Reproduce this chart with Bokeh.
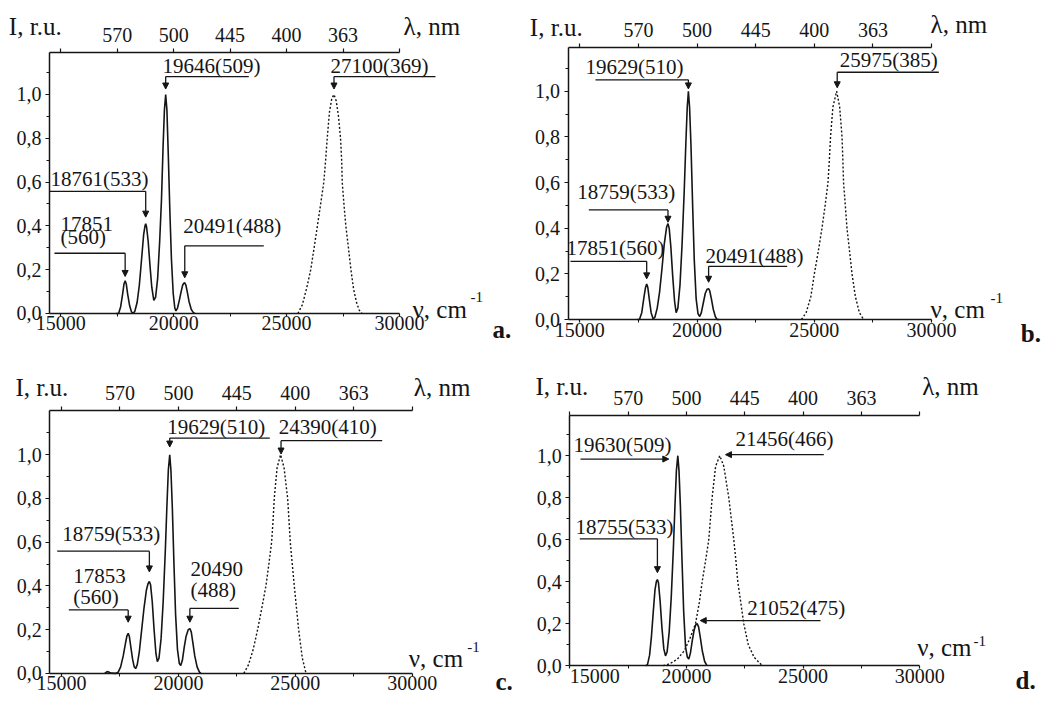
from bokeh.plotting import figure
from bokeh.layouts import column, row
from bokeh.models import (LinearAxis, FixedTicker, CustomJSTickFormatter, Range1d,
                          Arrow, NormalHead, ColumnDataSource)
from bokeh.core.properties import value
from bokeh.embed import file_html
from bokeh.resources import INLINE

FONT = "Liberation Serif"

# ---------------- axis ticks / labels ----------------
NU_TICKS = [15000, 20000, 25000, 30000]
NU_MINOR = [17500, 22500, 27500]
LAM_TICKS = [15000, 17500, 20000, 22500, 25000, 27500, 30000]
LAM_LABELS = ["", "570", "500", "445", "400", "363", ""]
I_TICKS = [0.0, 0.2, 0.4, 0.6, 0.8, 1.0]
I_MINOR = [0.1, 0.3, 0.5, 0.7, 0.9, 1.1]

# ---------------- panel a ----------------
a_lum_nu = [17450, 17560, 17650, 17740, 17800, 17851, 17900, 17960, 18050, 18130, 18200, 18280, 18380, 18480,
            18580, 18670, 18730, 18761, 18800, 18870, 18950, 19030, 19120, 19200, 19290, 19380, 19460, 19530,
            19590, 19646, 19700, 19760, 19830, 19900, 19980, 20050, 20100, 20170, 20250, 20330, 20400, 20450,
            20491, 20540, 20600, 20680, 20780, 20880, 20950]
a_lum_I = [0.0, 0.0, 0.03, 0.09, 0.135, 0.15, 0.135, 0.09, 0.035, 0.008, 0.0, 0.01, 0.05, 0.13,
           0.25, 0.36, 0.40, 0.41, 0.395, 0.33, 0.22, 0.12, 0.06, 0.075, 0.16, 0.33, 0.52, 0.76,
           0.93, 1.0, 0.93, 0.73, 0.47, 0.25, 0.09, 0.025, 0.012, 0.025, 0.06, 0.1, 0.13, 0.138,
           0.14, 0.13, 0.1, 0.055, 0.018, 0.003, 0.0]
a_exc_nu = [25500, 25700, 25900, 26070, 26220, 26365, 26510, 26650, 26730, 26800, 26900, 27000, 27100,
            27200, 27300, 27390, 27440, 27465, 27540, 27625, 27740, 27850, 27970, 28100, 28220, 28340]
a_exc_I = [0.0, 0.04, 0.12, 0.2, 0.3, 0.4, 0.5, 0.6, 0.7, 0.8, 0.92, 0.98, 1.0,
           0.97, 0.9, 0.8, 0.7, 0.6, 0.5, 0.4, 0.3, 0.2, 0.11, 0.05, 0.015, 0.0]

# ---------------- panel b ----------------
b_lum_nu = [17450, 17543, 17640, 17730, 17800, 17851, 17900, 17960, 18040, 18127, 18200, 18300, 18400, 18500,
            18600, 18700, 18759, 18810, 18880, 18960, 19040, 19107, 19180, 19270, 19360, 19450, 19520, 19580,
            19629, 19680, 19740, 19810, 19880, 19960, 20040, 20112, 20180, 20260, 20350, 20430, 20491, 20540,
            20610, 20690, 20780, 20853, 20950]
b_lum_I = [0.0, 0.0, 0.03, 0.095, 0.14, 0.155, 0.14, 0.09, 0.03, 0.002, 0.01, 0.05, 0.12, 0.22,
           0.33, 0.405, 0.42, 0.40, 0.32, 0.19, 0.08, 0.03, 0.05, 0.15, 0.33, 0.56, 0.77, 0.93,
           1.0, 0.93, 0.76, 0.5, 0.26, 0.09, 0.025, 0.013, 0.03, 0.07, 0.115, 0.133, 0.135, 0.125,
           0.09, 0.045, 0.012, 0.0, 0.0]
b_exc_nu = [24450, 24650, 24850, 25000, 25170, 25325, 25460, 25581, 25640, 25690, 25790, 25950, 26080,
            26180, 26215, 26245, 26320, 26391, 26500, 26606, 26750, 26920, 27100]
b_exc_I = [0.0, 0.03, 0.1, 0.2, 0.3, 0.4, 0.5, 0.6, 0.7, 0.8, 0.93, 1.0, 0.93,
           0.8, 0.7, 0.6, 0.5, 0.4, 0.3, 0.2, 0.1, 0.03, 0.0]

# ---------------- panel c ----------------
c_lum_nu = [16850, 16920, 16990, 17060, 17150, 17300, 17420, 17530, 17640, 17740, 17800, 17853, 17900, 17960,
            18040, 18110, 18172, 18240, 18330, 18430, 18530, 18630, 18700, 18759, 18810, 18880, 18960, 19040,
            19100, 19170, 19260, 19350, 19440, 19510, 19570, 19629, 19680, 19740, 19810, 19880, 19960, 20040,
            20100, 20170, 20250, 20330, 20420, 20490, 20550, 20620, 20700, 20800, 20900, 20960]
c_lum_I = [0.0, 0.006, 0.008, 0.004, 0.001, 0.0, 0.005, 0.03, 0.08, 0.14, 0.172, 0.183, 0.17, 0.125,
           0.065, 0.03, 0.022, 0.04, 0.1, 0.2, 0.3, 0.38, 0.41, 0.42, 0.405, 0.33, 0.2, 0.09,
           0.054, 0.07, 0.16, 0.33, 0.56, 0.77, 0.93, 1.0, 0.93, 0.76, 0.5, 0.27, 0.11, 0.045,
           0.036, 0.06, 0.12, 0.17, 0.2, 0.205, 0.19, 0.14, 0.08, 0.03, 0.006, 0.0]
c_exc_nu = [22800, 23000, 23200, 23388, 23570, 23744, 23870, 23987, 24050, 24100, 24220, 24370, 24520,
            24673, 24730, 24785, 24870, 24957, 25050, 25144, 25300, 25460]
c_exc_I = [0.0, 0.04, 0.11, 0.2, 0.3, 0.4, 0.5, 0.6, 0.7, 0.8, 0.94, 1.0, 0.94,
           0.8, 0.7, 0.6, 0.5, 0.4, 0.3, 0.2, 0.07, 0.0]

# ---------------- panel d ----------------
d_lum_nu = [18250, 18330, 18420, 18500, 18580, 18650, 18710, 18755, 18800, 18870, 18950, 19030, 19102, 19170,
            19260, 19350, 19440, 19510, 19570, 19630, 19680, 19740, 19810, 19880, 19960, 20040, 20100, 20170,
            20250, 20330, 20400, 20460, 20520, 20600, 20680, 20780, 20880]
d_lum_I = [0.0, 0.005, 0.05, 0.14, 0.26, 0.36, 0.40, 0.41, 0.395, 0.31, 0.18, 0.08, 0.047, 0.065,
           0.16, 0.33, 0.56, 0.77, 0.93, 1.0, 0.93, 0.76, 0.5, 0.26, 0.09, 0.04, 0.032, 0.06,
           0.12, 0.17, 0.195, 0.2, 0.185, 0.13, 0.07, 0.02, 0.0]
d_exc_nu = [19000, 19300, 19600, 19900, 20150, 20387, 20550, 20674, 20820, 20957, 21100, 21250, 21430,
            21600, 21814, 21920, 22029, 22120, 22200, 22330, 22457, 22650, 22900, 23250]
d_exc_I = [0.0, 0.01, 0.03, 0.07, 0.13, 0.2, 0.3, 0.4, 0.5, 0.6, 0.8, 0.95, 1.0,
           0.95, 0.8, 0.7, 0.6, 0.5, 0.4, 0.3, 0.2, 0.1, 0.04, 0.0]

# ---------------- peak annotations ----------------
# ("b", lines, text_x, text_baselines, peak_x, tip_y, leader_y, leader_other_x)
# ("h", lines, text_x, text_baselines, arrow_from_x, arrow_to_x, arrow_y)
a_notes = [
    ("b", ["19646(509)"], 19505, [1.096], 19646, 1.025, 1.082, 23327),
    ("b", ["27100(369)"], 26945, [1.096], 27100, 1.025, 1.082, 31594),
    ("b", ["18761(533)"], 14544, [0.582], 18761, 0.44, 0.558, 14500),
    ("b", ["17851", "(560)"], 14987, [0.397, 0.315], 17851, 0.169, 0.275, 14721),
    ("b", ["20491(488)"], 20421, [0.365], 20491, 0.163, 0.309, 23991),
]
b_notes = [
    ("b", ["19629(510)"], 15242, [1.075], 19629, 1.01, 1.05, 15668),
    ("b", ["25975(385)"], 26080, [1.104], 25975, 1.015, 1.083, 30307),
    ("b", ["18759(533)"], 14888, [0.526], 18759, 0.426, 0.48, 15383),
    ("b", ["17851(560)"], 14432, [0.28], 17851, 0.178, 0.255, 14602),
    ("b", ["20491(488)"], 20359, [0.247], 20491, 0.163, 0.233, 23843),
]
c_notes = [
    ("b", ["19629(510)"], 19521, [1.094], 19629, 1.035, 1.076, 23909),
    ("b", ["24390(410)"], 24294, [1.094], 24390, 1.003, 1.064, 28717),
    ("b", ["18759(533)"], 15030, [0.602], 18759, 0.464, 0.559, 14816),
    ("b", ["17853", "(560)"], 15501, [0.435, 0.316], 17853, 0.234, 0.29, 15313),
    ("b", ["20490", "(488)"], 20518, [0.466, 0.347], 20490, 0.234, 0.297, 22583),
]
d_notes = [
    ("h", ["19630(509)"], 15159, [1.015], 15459, 19243, 0.984),
    ("h", ["21456(466)"], 22102, [1.043], 25886, 21673, 1.005),
    ("b", ["18755(533)"], 15244, [0.626], 18755, 0.443, 0.604, 15429),
    ("h", ["21052(475)"], 22603, [0.238], 25745, 20590, 0.215),
]

# titles: (I-label baseline pos, lambda pos, nu pos, superscript pos, letter, letter pos)
a_titles = ((12700, 1.272), (30179, 1.272), (30577, -0.018), (33146, 0.068), "a.", (34121, -0.11))
b_titles = ((12870, 1.244), (29953, 1.258), (29953, 0.009), (32511, 0.088), "b.", (33800, -0.095))
c_titles = ((13033, 1.269), (30068, 1.269), (29854, 0.032), (32352, 0.114), "c.", (33563, -0.075))
d_titles = ((13530, 1.289), (30104, 1.289), (29890, 0.046), (32303, 0.11), "d.", (34103, -0.108))

INK = "#151515"
DESC = 0.216  # font descent (em) used to place text by its baseline


def axis_style():
    return dict(axis_line_color=INK, axis_line_width=1.5,
                major_tick_line_color=INK, major_tick_line_width=1.2,
                minor_tick_line_color=INK, minor_tick_line_width=1.0,
                major_label_text_font=FONT, major_label_text_color=INK,
                major_label_text_font_size="20px")


def panel(width, height, xr, yr, x_lo, top_y, lum, exc, notes, titles, first_label_right=False):
    p = figure(width=width, height=height, x_range=Range1d(*xr), y_range=Range1d(*yr),
               output_backend="svg", toolbar_location=None, tools="",
               x_axis_location=None, y_axis_location=None, min_border=0,
               outline_line_color=None, background_fill_color="white", border_fill_color="white")
    p.grid.visible = False
    px_per_unit = height / (yr[1] - yr[0])

    def base(yvals, fs):
        d = DESC * fs / px_per_unit
        return [v - d for v in yvals]

    left = LinearAxis(fixed_location=x_lo, bounds=(0, top_y),
                      ticker=FixedTicker(ticks=I_TICKS, minor_ticks=I_MINOR),
                      formatter=CustomJSTickFormatter(code="return tick.toFixed(1).replace('.', ',');"),
                      major_tick_out=4, major_tick_in=0, minor_tick_out=3, minor_tick_in=0,
                      major_label_standoff=4, **axis_style())
    p.add_layout(left, "left")

    top = LinearAxis(fixed_location=top_y, bounds=(x_lo, 30000),
                     ticker=FixedTicker(ticks=LAM_TICKS, minor_ticks=[]),
                     major_label_overrides={t: l for t, l in zip(LAM_TICKS, LAM_LABELS)},
                     major_tick_out=4, major_tick_in=0, minor_tick_out=0, minor_tick_in=0,
                     major_label_standoff=7, **axis_style())
    p.add_layout(top, "above")

    bottom = LinearAxis(fixed_location=0, bounds=(x_lo, 30000),
                        ticker=FixedTicker(ticks=NU_TICKS, minor_ticks=NU_MINOR),
                        major_tick_out=3, major_tick_in=0, minor_tick_out=3, minor_tick_in=0,
                        major_label_standoff=0, **axis_style())
    if first_label_right:
        # first tick label starts at the axis corner instead of being centred on it
        bottom.major_label_overrides = {NU_TICKS[0]: ""}
        p.text(x=[NU_TICKS[0]], y=[-3.0 / px_per_unit], text=[str(NU_TICKS[0])],
               text_font=value(FONT), text_font_size="20px", text_baseline="top",
               text_align="left", text_color=INK)
    p.add_layout(bottom, "below")

    p.line(lum[0], lum[1], line_color=INK, line_width=1.6)
    p.line(exc[0], exc[1], line_color=INK, line_width=1.4, line_dash="2 2")

    seg = dict(x0=[], y0=[], x1=[], y1=[])
    arr = dict(x0=[], y0=[], x1=[], y1=[])
    tx, ty, tt = [], [], []
    for n in notes:
        kind, lines, text_x, text_ys = n[0], n[1], n[2], n[3]
        if kind == "b":
            pkx, tip, ly, ox = n[4], n[5], n[6], n[7]
            seg["x0"].append(ox); seg["y0"].append(ly); seg["x1"].append(pkx); seg["y1"].append(ly)
            arr["x0"].append(pkx); arr["y0"].append(ly); arr["x1"].append(pkx); arr["y1"].append(tip)
        else:
            xf, xt, yy = n[4], n[5], n[6]
            arr["x0"].append(xf); arr["y0"].append(yy); arr["x1"].append(xt); arr["y1"].append(yy)
        for line_text, yb in zip(lines, text_ys):
            tx.append(text_x); ty.append(yb); tt.append(line_text)

    if seg["x0"]:
        p.segment(x0="x0", y0="y0", x1="x1", y1="y1", source=ColumnDataSource(seg),
                  line_color=INK, line_width=1.3)
    p.add_layout(Arrow(x_start="x0", y_start="y0", x_end="x1", y_end="y1",
                       source=ColumnDataSource(arr), line_color=INK, line_width=1.3,
                       end=NormalHead(size=6, fill_color=INK, line_color=INK, line_width=1)))
    p.text(x=tx, y=base(ty, 21), text=tt, text_font=value(FONT), text_font_size="21px",
           text_baseline="bottom", text_align="left", text_color=INK)

    ipos, lpos, npos, spos, letter, lepos = titles
    p.text(x=[ipos[0], lpos[0], npos[0]], y=base([ipos[1], lpos[1], npos[1]], 25),
           text=["I, r.u.", "λ, nm", "ν, cm"], text_font=value(FONT), text_font_size="25px",
           text_baseline="bottom", text_align="left", text_color=INK)
    p.text(x=[spos[0]], y=base([spos[1]], 15), text=["-1"], text_font=value(FONT), text_font_size="15px",
           text_baseline="bottom", text_align="left", text_color=INK)
    p.text(x=[lepos[0]], y=base([lepos[1]], 25), text=[letter], text_font=value(FONT), text_font_size="25px",
           text_font_style="bold", text_baseline="bottom", text_align="left", text_color=INK)
    return p


pa = panel(521, 347, (12330, 35405), (-0.1553, 1.4292), 14500, 1.19,
           (a_lum_nu, a_lum_I), (a_exc_nu, a_exc_I), a_notes, a_titles)
pb = panel(521, 347, (12513, 34728), (-0.1226, 1.3973), 14500, 1.19,
           (b_lum_nu, b_lum_I), (b_exc_nu, b_exc_I), b_notes, b_titles)
pc = panel(521, 348, (12391, 34675), (-0.1011, 1.4902), 14500, 1.2,
           (c_lum_nu, c_lum_I), (c_exc_nu, c_exc_I), c_notes, c_titles)
pd = panel(521, 348, (12930, 35260), (-0.1419, 1.5152), 15000, 1.19,
           (d_lum_nu, d_lum_I), (d_exc_nu, d_exc_I), d_notes, d_titles, first_label_right=True)

layout = column(row(pa, pb), row(pc, pd))

open("out.html", "w").write(file_html(layout, INLINE))
